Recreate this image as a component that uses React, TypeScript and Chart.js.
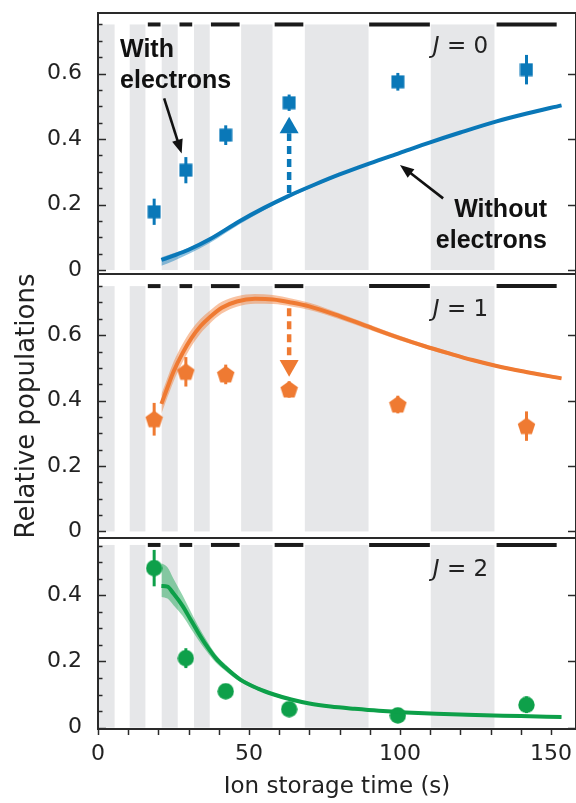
import React, { useEffect, useRef } from "react";
import { Chart, registerables } from "chart.js";
Chart.register(...registerables);

// ---------- data ----------
const times = [18.6, 29.1, 42.3, 63.3, 99.3, 141.9];

const popJ0 = [0.178, 0.305, 0.412, 0.511, 0.575, 0.612];
const errJ0 = [0.04, 0.04, 0.03, 0.025, 0.027, 0.045];
const popJ1 = [0.343, 0.488, 0.48, 0.434, 0.388, 0.322];
const errJ1 = [0.05, 0.045, 0.03, 0.025, 0.027, 0.045];
const popJ2 = [0.482, 0.21, 0.11, 0.056, 0.037, 0.069];
const errJ2 = [0.055, 0.03, 0.012, 0.01, 0.01, 0.025];

const modelXJ0 = [21, 25, 30, 37, 47, 55, 63, 72, 80, 90, 100, 110, 120, 132, 142, 153.5];
const modelJ0 = [0.031, 0.044, 0.062, 0.094, 0.15, 0.19, 0.226, 0.262, 0.292, 0.326, 0.358, 0.39, 0.42, 0.454, 0.478, 0.503];
const loJ0 = [0.013, 0.028, 0.049, 0.083, 0.141, 0.183, 0.22, 0.257, 0.288, 0.322, 0.354, 0.386, 0.416, 0.45, 0.474, 0.499];
const hiJ0 = [0.039, 0.051, 0.068, 0.099, 0.154, 0.194, 0.23, 0.266, 0.295, 0.329, 0.361, 0.393, 0.423, 0.457, 0.481, 0.506];

const modelXJ1 = [21, 23, 25, 28, 31, 34, 37, 41, 46, 52, 58, 64, 70, 80, 91, 100, 108, 116, 124, 132, 141, 153.5];
const modelJ1 = [0.39, 0.44, 0.488, 0.545, 0.592, 0.628, 0.655, 0.684, 0.703, 0.711, 0.709, 0.7, 0.688, 0.658, 0.621, 0.591, 0.567, 0.545, 0.524, 0.506, 0.489, 0.468];
const loJ1 = [0.36, 0.41, 0.458, 0.517, 0.567, 0.606, 0.635, 0.666, 0.687, 0.696, 0.695, 0.688, 0.677, 0.649, 0.613, 0.584, 0.561, 0.539, 0.519, 0.501, 0.484, 0.463];
const hiJ1 = [0.42, 0.47, 0.518, 0.573, 0.617, 0.65, 0.675, 0.702, 0.719, 0.726, 0.723, 0.712, 0.699, 0.667, 0.629, 0.598, 0.573, 0.551, 0.529, 0.511, 0.494, 0.473];

const modelXJ2 = [21, 23, 25, 28, 30.5, 33, 36, 39, 42, 47, 53, 58, 64, 70, 77, 85, 93, 102, 112, 125, 140, 153.5];
const modelJ2 = [0.428, 0.426, 0.405, 0.368, 0.329, 0.29, 0.247, 0.21, 0.183, 0.146, 0.118, 0.101, 0.085, 0.073, 0.064, 0.057, 0.051, 0.046, 0.042, 0.038, 0.035, 0.032];
const loJ2 = [0.395, 0.39, 0.37, 0.338, 0.303, 0.268, 0.23, 0.197, 0.173, 0.139, 0.113, 0.096, 0.081, 0.069, 0.06, 0.053, 0.047, 0.042, 0.038, 0.034, 0.031, 0.029];
const hiJ2 = [0.497, 0.485, 0.45, 0.4, 0.355, 0.31, 0.263, 0.222, 0.193, 0.153, 0.123, 0.106, 0.089, 0.077, 0.068, 0.061, 0.055, 0.05, 0.046, 0.042, 0.039, 0.035];

const grayBands = [[0, 5.5], [10.5, 15.7], [21.1, 26.4], [31.8, 37], [47.4, 57.8], [68.5, 89.6], [110.2, 131.3]];
const measureBars = [[16.5, 20.7], [27, 31.2], [37.4, 46.9], [58.5, 68], [89.8, 109.9], [132, 151.9]];

const xTicks = [0, 50, 100, 150];
const xTickLabels = ["0", "50", "100", "150"];
const yTicksTall = [0, 0.2, 0.4, 0.6];
const yTickLabelsTall = ["0", "0.2", "0.4", "0.6"];
const yTicksShort = [0, 0.2, 0.4];
const yTickLabelsShort = ["0", "0.2", "0.4"];

// ---------- helpers ----------
const TICK_FONT = { family: "DejaVu Sans", size: 22 };
const TXT = "#222222";
const X_MIN = 0;
const X_MAX = 158.3;

function makeMarker(shape: string, color: string) {
  const c = document.createElement("canvas");
  const size = shape === "pentagon" ? 19 : shape === "circle" ? 17 : 14;
  c.width = size;
  c.height = size;
  const g = c.getContext("2d")!;
  g.fillStyle = color;
  const cx = size / 2, cy = size / 2;
  if (shape === "square") {
    g.fillRect(0.5, 0.5, size - 1, size - 1);
  } else if (shape === "circle") {
    g.beginPath();
    g.arc(cx, cy, size / 2 - 0.3, 0, Math.PI * 2);
    g.fill();
  } else {
    const r = size / 2 - 0.3;
    g.beginPath();
    for (let i = 0; i < 5; i++) {
      const a = -Math.PI / 2 + (i * 2 * Math.PI) / 5;
      const px = cx + r * Math.cos(a), py = cy + 0.6 + r * Math.sin(a);
      if (i === 0) g.moveTo(px, py); else g.lineTo(px, py);
    }
    g.closePath();
    g.fill();
  }
  return c;
}

function arrowHead(ctx: CanvasRenderingContext2D, x0: number, y0: number, x1: number, y1: number, len: number, half: number) {
  const ang = Math.atan2(y1 - y0, x1 - x0);
  ctx.beginPath();
  ctx.moveTo(x1, y1);
  ctx.lineTo(x1 - len * Math.cos(ang) + half * Math.sin(ang), y1 - len * Math.sin(ang) - half * Math.cos(ang));
  ctx.lineTo(x1 - len * Math.cos(ang) - half * Math.sin(ang), y1 - len * Math.sin(ang) + half * Math.cos(ang));
  ctx.closePath();
  ctx.fill();
}

type PanelCfg = {
  canvasTop: number;
  canvasHeight: number;
  padTop: number;
  padBottom: number;
  yMin: number;
  yMax: number;
  yTicks: number[];
  yTickLabels: string[];
  bandTop: number;
  modelX: number[];
  model: number[];
  lo: number[];
  hi: number[];
  pts: number[];
  err: number[];
  color: string;
  light: string;
  marker: string;
  jText: string;
  jX: number;
  jY: number;
  showX: boolean;
  yTitle: boolean;
  extra?: (ctx: CanvasRenderingContext2D, x: any, y: any) => void;
};

function drawJ(ctx: CanvasRenderingContext2D, px: number, py: number, num: string) {
  ctx.save();
  ctx.fillStyle = TXT;
  ctx.textBaseline = "middle";
  ctx.textAlign = "left";
  ctx.font = "italic 23px 'DejaVu Sans'";
  ctx.fillText("J", px, py);
  const w = ctx.measureText("J").width;
  ctx.font = "23px 'DejaVu Sans'";
  ctx.fillText(" = " + num, px + w, py);
  ctx.restore();
}

function dashedArrow(ctx: CanvasRenderingContext2D, x: any, y: any, xv: number, from: number, headBase: number, tip: number, color: string) {
  const px = x.getPixelForValue(xv);
  const p0 = y.getPixelForValue(from), pb = y.getPixelForValue(headBase), pt = y.getPixelForValue(tip);
  ctx.save();
  ctx.strokeStyle = color;
  ctx.fillStyle = color;
  ctx.lineWidth = 4.5;
  ctx.setLineDash([8, 5]);
  ctx.beginPath();
  ctx.moveTo(px, p0);
  ctx.lineTo(px, pb);
  ctx.stroke();
  ctx.setLineDash([]);
  ctx.beginPath();
  ctx.moveTo(px, pt);
  ctx.lineTo(px - 9.5, pb);
  ctx.lineTo(px + 9.5, pb);
  ctx.closePath();
  ctx.fill();
  ctx.restore();
}

function blackArrow(ctx: CanvasRenderingContext2D, x: any, y: any, xa: number, ya: number, xb: number, yb: number) {
  const x0 = x.getPixelForValue(xa), y0 = y.getPixelForValue(ya);
  const x1 = x.getPixelForValue(xb), y1 = y.getPixelForValue(yb);
  const ang = Math.atan2(y1 - y0, x1 - x0);
  ctx.save();
  ctx.strokeStyle = "#111";
  ctx.fillStyle = "#111";
  ctx.lineWidth = 2.6;
  ctx.beginPath();
  ctx.moveTo(x0, y0);
  ctx.lineTo(x1 - 10 * Math.cos(ang), y1 - 10 * Math.sin(ang));
  ctx.stroke();
  arrowHead(ctx, x0, y0, x1, y1, 14, 5.5);
  ctx.restore();
}

function boldText(ctx: CanvasRenderingContext2D, x: any, y: any, text: string, xv: number, yv: number, align: CanvasTextAlign) {
  ctx.save();
  ctx.fillStyle = "#111";
  ctx.font = "bold 25px 'Liberation Sans'";
  ctx.textAlign = align;
  ctx.textBaseline = "middle";
  ctx.fillText(text, x.getPixelForValue(xv), y.getPixelForValue(yv));
  ctx.restore();
}

function zeroPad(s: any) {
  s.paddingTop = 0;
  s.paddingBottom = 0;
  s.paddingLeft = 0;
  s.paddingRight = 0;
}

function buildChart(canvas: HTMLCanvasElement, p: PanelCfg) {
  const markerImg = makeMarker(p.marker, p.color);
  const deco = {
    id: "deco",
    beforeDatasetsDraw(chart: any) {
      const { ctx, scales } = chart;
      const x = scales.x, y = scales.y;
      ctx.save();
      ctx.fillStyle = "#e6e7e9";
      const yb = y.getPixelForValue(0), yt = y.getPixelForValue(p.bandTop);
      for (const [s, e] of grayBands) {
        const x0 = x.getPixelForValue(s), x1 = x.getPixelForValue(e);
        ctx.fillRect(x0, yt, x1 - x0, yb - yt);
      }
      ctx.strokeStyle = "#1a1a1a";
      ctx.lineWidth = 4;
      for (const [s, e] of measureBars) {
        ctx.beginPath();
        ctx.moveTo(x.getPixelForValue(s), yt);
        ctx.lineTo(x.getPixelForValue(e), yt);
        ctx.stroke();
      }
      ctx.restore();
    },
    beforeDatasetDraw(chart: any, args: any) {
      if (args.index !== 3) return;
      const { ctx, scales } = chart;
      const x = scales.x, y = scales.y;
      ctx.save();
      ctx.strokeStyle = p.color;
      ctx.lineWidth = 3;
      times.forEach((t, i) => {
        const px = x.getPixelForValue(t);
        ctx.beginPath();
        ctx.moveTo(px, y.getPixelForValue(p.pts[i] - p.err[i]));
        ctx.lineTo(px, y.getPixelForValue(p.pts[i] + p.err[i]));
        ctx.stroke();
      });
      ctx.restore();
    },
    afterDatasetsDraw(chart: any) {
      const { ctx, scales } = chart;
      if (p.extra) p.extra(ctx, scales.x, scales.y);
      drawJ(ctx, scales.x.getPixelForValue(p.jX), scales.y.getPixelForValue(p.jY), p.jText);
    },
    afterDraw(chart: any) {
      const { ctx, chartArea: a, scales } = chart;
      const x = scales.x, y = scales.y;
      ctx.save();
      ctx.strokeStyle = "#2a2a2a";
      ctx.lineWidth = 1.5;
      for (let k = 0; k * 0.05 <= p.yMax + 1e-9; k++) {
        const v = k * 0.05;
        const py = Math.round(y.getPixelForValue(v)) + 0.5;
        if (py < a.top + 2) continue;
        const major = k % 4 === 0;
        ctx.beginPath();
        ctx.moveTo(a.left, py);
        ctx.lineTo(a.left + (major ? 8 : 4.5), py);
        ctx.stroke();
        if (major) {
          ctx.beginPath();
          ctx.moveTo(a.right, py);
          ctx.lineTo(a.right - 8, py);
          ctx.stroke();
        }
      }
      if (p.showX) {
        for (let t = 0; t <= 150; t += 10) {
          const px = Math.round(x.getPixelForValue(t)) + 0.5;
          ctx.beginPath();
          ctx.moveTo(px, a.bottom);
          ctx.lineTo(px, a.bottom + 6);
          ctx.stroke();
        }
      }
      ctx.lineWidth = 2;
      ctx.strokeRect(a.left, a.top, a.right - a.left, a.bottom - a.top);
      ctx.restore();
    },
  };

  const toPts = (xs: number[], ys: number[]) => xs.map((v, i) => ({ x: v, y: ys[i] }));

  return new Chart(canvas, {
    type: "scatter",
    data: {
      datasets: [
        {
          data: toPts(p.modelX, p.lo),
          showLine: true,
          borderWidth: 0,
          borderColor: "rgba(0,0,0,0)",
          pointRadius: 0,
          cubicInterpolationMode: "monotone",
          fill: false,
        } as any,
        {
          data: toPts(p.modelX, p.hi),
          showLine: true,
          borderWidth: 0,
          borderColor: "rgba(0,0,0,0)",
          backgroundColor: p.light,
          pointRadius: 0,
          cubicInterpolationMode: "monotone",
          fill: "-1",
        },
        {
          data: toPts(p.modelX, p.model),
          showLine: true,
          borderWidth: 4,
          borderColor: p.color,
          pointRadius: 0,
          cubicInterpolationMode: "monotone",
          borderCapStyle: "butt",
          fill: false,
        },
        {
          data: toPts(times, p.pts),
          showLine: false,
          pointStyle: markerImg as any,
          pointRadius: 8,
          backgroundColor: p.color,
          borderColor: p.color,
        },
      ],
    },
    options: {
      responsive: false,
      animation: false,
      events: [],
      layout: { autoPadding: false, padding: { top: p.padTop, bottom: p.padBottom, left: 0, right: 0 } },
      plugins: { legend: { display: false }, tooltip: { enabled: false } },
      scales: {
        x: {
          type: "linear",
          min: X_MIN,
          max: X_MAX,
          display: p.showX,
          grid: { display: false, drawTicks: false },
          border: { display: false },
          afterBuildTicks: (s: any) => {
            s.ticks = xTicks.map((v) => ({ value: v }));
          },
          afterFit: (s: any) => {
            zeroPad(s);
            if (p.showX) s.height = 74;
          },
          ticks: {
            font: TICK_FONT,
            color: TXT,
            padding: 12,
            maxRotation: 0,
            callback: (v: any) => xTickLabels[xTicks.indexOf(Number(v))] ?? "",
          },
          title: {
            display: p.showX,
            text: "Ion storage time (s)",
            font: { family: "DejaVu Sans", size: 23 },
            color: TXT,
            padding: { top: 0, bottom: 2 },
          },
        },
        y: {
          type: "linear",
          min: p.yMin,
          max: p.yMax,
          grid: { display: false, drawTicks: false },
          border: { display: false },
          afterBuildTicks: (s: any) => {
            s.ticks = p.yTicks.map((v) => ({ value: v }));
          },
          afterFit: (s: any) => {
            zeroPad(s);
            s.width = 98;
          },
          ticks: {
            font: TICK_FONT,
            color: TXT,
            padding: 16,
            callback: (v: any) => {
              const i = p.yTicks.findIndex((t) => Math.abs(t - Number(v)) < 1e-9);
              return i >= 0 ? p.yTickLabels[i] : "";
            },
          },
          title: {
            display: p.yTitle,
            text: "Relative populations",
            font: { family: "DejaVu Sans", size: 26 },
            color: TXT,
            padding: { top: 12, bottom: 0 },
          },
        },
      },
    },
    plugins: [deco as any],
  });
}

const panels: PanelCfg[] = [
  {
    canvasTop: 0,
    canvasHeight: 292,
    padTop: 13,
    padBottom: 18,
    yMin: -0.012,
    yMax: 0.785,
    yTicks: yTicksTall,
    yTickLabels: yTickLabelsTall,
    bandTop: 0.75,
    modelX: modelXJ0,
    model: modelJ0,
    lo: loJ0,
    hi: hiJ0,
    pts: popJ0,
    err: errJ0,
    color: "#0a78b8",
    light: "rgba(10,120,184,0.45)",
    marker: "square",
    jText: "0",
    jX: 110.9,
    jY: 0.681,
    showX: false,
    yTitle: false,
    extra: (ctx, x, y) => {
      dashedArrow(ctx, x, y, 63.3, 0.235, 0.418, 0.468, "#0a78b8");
      blackArrow(ctx, x, y, 21.9, 0.524, 27.7, 0.356);
      blackArrow(ctx, x, y, 114.3, 0.219, 100, 0.321);
      boldText(ctx, x, y, "With", 7.3, 0.672, "left");
      boldText(ctx, x, y, "electrons", 7.3, 0.577, "left");
      boldText(ctx, x, y, "Without", 148.7, 0.183, "right");
      boldText(ctx, x, y, "electrons", 148.7, 0.089, "right");
    },
  },
  {
    canvasTop: 268,
    canvasHeight: 280,
    padTop: 6,
    padBottom: 10,
    yMin: -0.02,
    yMax: 0.787,
    yTicks: yTicksTall,
    yTickLabels: yTickLabelsTall,
    bandTop: 0.75,
    modelX: modelXJ1,
    model: modelJ1,
    lo: loJ1,
    hi: hiJ1,
    pts: popJ1,
    err: errJ1,
    color: "#ef7a32",
    light: "rgba(239,122,50,0.45)",
    marker: "pentagon",
    jText: "1",
    jX: 110.9,
    jY: 0.677,
    showX: false,
    yTitle: true,
    extra: (ctx, x, y) => {
      dashedArrow(ctx, x, y, 63.3, 0.682, 0.524, 0.473, "#ef7a32");
    },
  },
  {
    canvasTop: 530,
    canvasHeight: 273,
    padTop: 8,
    padBottom: 0,
    yMin: -0.004,
    yMax: 0.573,
    yTicks: yTicksShort,
    yTickLabels: yTickLabelsShort,
    bandTop: 0.552,
    modelX: modelXJ2,
    model: modelJ2,
    lo: loJ2,
    hi: hiJ2,
    pts: popJ2,
    err: errJ2,
    color: "#0ea04a",
    light: "rgba(14,160,74,0.45)",
    marker: "circle",
    jText: "2",
    jX: 110.9,
    jY: 0.475,
    showX: true,
    yTitle: false,
  },
];

function Panel({ cfg }: { cfg: PanelCfg }) {
  const ref = useRef<HTMLCanvasElement | null>(null);
  useEffect(() => {
    if (!ref.current) return;
    const chart = buildChart(ref.current, cfg);
    return () => chart.destroy();
  }, [cfg]);
  return (
    <canvas
      ref={ref}
      width={576}
      height={cfg.canvasHeight}
      style={{ position: "absolute", left: 0, top: cfg.canvasTop, width: 576, height: cfg.canvasHeight, display: "block" }}
    />
  );
}

export default function App() {
  return (
    <div style={{ position: "absolute", left: 0, top: 0, width: 576, height: 803, background: "#ffffff", overflow: "hidden" }}>
      {panels.map((p, i) => (
        <Panel key={i} cfg={p} />
      ))}
    </div>
  );
}
